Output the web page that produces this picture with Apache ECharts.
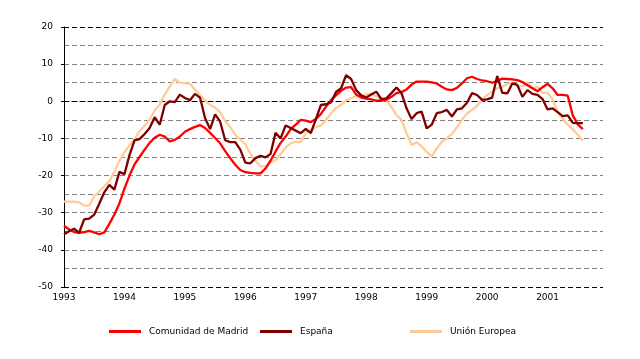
<!DOCTYPE html>
<html>
<head>
<meta charset="utf-8">
<script src="https://cdn.jsdelivr.net/npm/echarts@6/dist/echarts.min.js"></script>
<style>html,body{margin:0;padding:0;background:#fff}#c{width:640px;height:359px}</style>
</head>
<body>
<div id="c"></div>
<script>
var years = [1993,1994,1995,1996,1997,1998,1999,2000,2001];
var monthsShown = 108;
var seriesNames = ['Comunidad de Madrid','España','Unión Europea'];
var madrid = [-33.5,-34.5,-35.2,-35.4,-35.2,-34.9,-35.3,-35.8,-35.3,-33.0,-30.5,-27.5,
-23.5,-20.0,-17.0,-15.0,-13.0,-11.2,-9.8,-9.0,-9.5,-10.8,-10.4,-9.5,
-8.2,-7.5,-6.9,-6.4,-7.2,-8.5,-9.9,-11.3,-13.4,-15.3,-17.1,-18.5,
-19.1,-19.3,-19.4,-19.4,-18.1,-16.0,-13.5,-11.2,-9.5,-7.5,-6.3,-5.0,
-5.2,-5.6,-4.8,-3.4,-1.5,0.3,1.6,2.8,3.7,3.8,1.8,1.0,
0.7,0.5,0.2,0.2,0.4,1.2,2.2,2.5,3.2,4.5,5.3,5.3,
5.3,5.1,4.8,3.9,3.2,3.0,3.6,4.8,6.2,6.6,6.0,5.6,
5.4,5.0,5.5,6.1,6.0,5.9,5.7,5.2,4.3,3.5,2.7,3.8,
4.7,3.5,1.7,1.7,1.5,-3.8,-6.2,-7.5];
var espana = [-35.8,-35.0,-34.3,-35.4,-31.8,-31.6,-30.5,-27.6,-24.5,-22.5,-23.8,-19.0,
-19.6,-14.5,-10.5,-10.2,-8.8,-7.2,-4.3,-6.3,-1.0,0.0,-0.2,1.8,
0.9,0.3,2.0,1.0,-4.5,-7.5,-3.5,-5.5,-10.5,-11.0,-11.0,-13.0,
-16.5,-16.7,-15.3,-14.7,-15.1,-14.2,-8.5,-10.0,-6.5,-7.2,-7.9,-8.6,
-7.4,-8.6,-4.8,-1.0,-0.8,-0.3,2.5,3.5,7.0,6.0,3.0,1.6,
1.0,1.8,2.6,0.6,0.8,2.2,3.7,2.2,-1.9,-4.8,-3.2,-2.8,
-7.3,-6.3,-3.2,-2.9,-2.3,-4.1,-2.2,-1.9,-0.4,2.2,1.7,0.4,
0.5,1.0,6.8,2.3,2.1,4.8,4.4,1.2,3.0,2.0,1.7,0.6,
-2.2,-1.9,-2.9,-4.0,-3.8,-5.8,-5.9,-5.9];
var ue = [-27.0,-27.0,-27.0,-27.2,-28.1,-28.1,-25.5,-24.3,-22.8,-21.5,-19.0,-16.0,
-13.7,-11.9,-10.2,-8.0,-6.6,-4.9,-2.5,-0.9,1.8,4.0,6.0,5.0,
4.9,4.7,3.2,1.7,0.2,-1.0,-1.7,-3.0,-5.3,-7.0,-9.0,-10.3,
-11.5,-14.2,-16.0,-17.5,-17.5,-16.5,-15.8,-14.2,-12.5,-11.3,-10.9,-11.0,
-8.5,-7.7,-7.0,-6.5,-5.0,-3.3,-1.8,-1.0,0.2,0.8,1.4,1.3,
1.9,2.0,1.4,0.4,0.2,-1.5,-3.7,-5.0,-8.6,-11.8,-11.0,-12.2,
-13.6,-14.9,-12.7,-10.9,-10.0,-8.8,-7.0,-5.0,-3.3,-2.3,-1.2,0.3,
1.7,2.6,3.5,3.9,4.6,5.0,4.1,4.1,5.0,3.5,3.9,2.3,
2.3,0.5,-3.0,-4.8,-6.3,-7.5,-9.0,-10.6];
var yTicks = [-50,-40,-30,-20,-10,0,10,20];

var categories = [];
for (var i = 0; i < monthsShown; i++) {
  var y = years[0] + Math.floor(i / 12);
  var m = (i % 12) + 1;
  categories.push(y + '-' + (m < 10 ? '0' + m : m));
}
var splitColors = yTicks.map(function (v) { return (v === 0 || v === 20 || v === -50) ? '#000000' : '#808080'; });

var font = 'DejaVu Sans';
var chart = echarts.init(document.getElementById('c'), null, {renderer: 'canvas'});
function legendAt(name, left) {
  return {
    data: [name], left: left, top: 327, padding: 0,
    icon: 'rect', itemWidth: 32, itemHeight: 3,
    textStyle: {fontFamily: font, fontSize: 9, color: '#000', padding: [0, 0, 0, 3]},
    selectedMode: false
  };
}
chart.setOption({
  animation: false,
  backgroundColor: '#ffffff',
  grid: {left: 64, right: 37, top: 27, bottom: 72, containLabel: false},
  legend: [legendAt(seriesNames[0], 109), legendAt(seriesNames[1], 260), legendAt(seriesNames[2], 410)],
  xAxis: {
    type: 'category', data: categories, boundaryGap: false,
    axisLine: {show: true, lineStyle: {color: '#000', type: [5, 3], width: 1}},
    axisTick: {show: false},
    axisLabel: {interval: 11, margin: 6, fontFamily: font, fontSize: 9, color: '#000',
      formatter: function (v) { return v.slice(0, 4); }},
    splitLine: {show: false}
  },
  yAxis: {
    type: 'value', min: -50, max: 20, interval: 10,
    axisLine: {show: true, onZero: false, lineStyle: {color: '#000', width: 1}},
    axisTick: {show: true, length: 3, lineStyle: {color: '#000'}},
    axisLabel: {margin: 11, fontFamily: font, fontSize: 9, color: '#000'},
    splitLine: {show: true, lineStyle: {color: splitColors, type: [5, 3], width: 1}},
    minorTick: {show: false, splitNumber: 2},
    minorSplitLine: {show: true, lineStyle: {color: '#808080', type: [5, 3], width: 1}}
  },
  series: [
    {name: seriesNames[2], type: 'line', data: ue, showSymbol: false, symbol: 'none', z: 2,
      color: '#FFCC99', lineStyle: {width: 2.3, color: '#FFCC99'}},
    {name: seriesNames[0], type: 'line', data: madrid, showSymbol: false, symbol: 'none', z: 3,
      color: '#FF0000', lineStyle: {width: 2.3, color: '#FF0000'}},
    {name: seriesNames[1], type: 'line', data: espana, showSymbol: false, symbol: 'none', z: 4,
      color: '#800000', lineStyle: {width: 2.3, color: '#800000'}}
  ]
});
</script>
</body>
</html>
